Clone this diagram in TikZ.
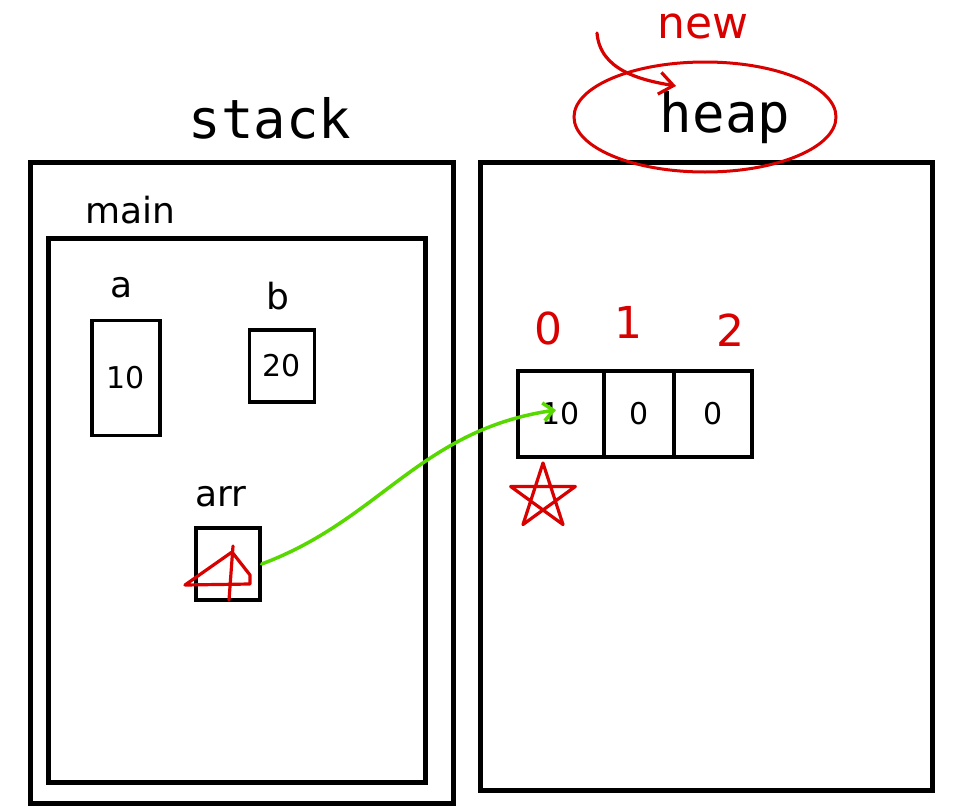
\documentclass[tikz,border=0pt]{standalone}
\usepackage{fontspec}
\setmainfont{DejaVu Sans}
\newfontfamily\titlefont{DejaVu Sans Mono}
\usetikzlibrary{shapes.geometric,calc,arrows.meta}
\begin{document}
\begin{tikzpicture}[x=1pt,y=-1pt,
  frame/.style={draw=black,line width=5pt},
  cellbox/.style={draw=black,line width=3.2pt,inner sep=0pt},
  title/.style={font=\titlefont\fontsize{54}{60}\selectfont,inner sep=0pt},
  hand/.style={font=\fontsize{36}{40}\selectfont,inner sep=0pt},
  val/.style={font=\fontsize{30}{34}\selectfont,inner sep=0pt},
  redtext/.style={font=\fontsize{44}{48}\selectfont,inner sep=0pt,text=red!85!black},
  redink/.style={draw=red!85!black,line width=3.2pt,line join=round,line cap=round},
  greenink/.style={draw=green!60!yellow!85!black,line width=3.5pt,line cap=round}]
\useasboundingbox[fill=white] (0,0) rectangle (964,811);

% stack
\node[title] (stacklbl) at (270,118) {stack};
\draw[frame] (30,162) rectangle (453,803);
\node[hand] (mainlbl) at (130,210) {main};
\draw[frame] (48,238) rectangle (425,782);

% variable a
\node[hand] (albl) at (122,288) {a};
\node[cellbox,minimum width=68,minimum height=115] (abox) at (126,378) {};
\node[val] (aval) at (abox) {10};

% variable b
\node[hand] (blbl) at (278,296) {b};
\node[cellbox,minimum width=65,minimum height=72] (bbox) at (282,366) {};
\node[val] (bval) at (bbox) {20};

% arr
\node[hand] (arrlbl) at (221,497) {arr};
\node[cellbox,minimum width=64,minimum height=72] (arrbox) at (228,564) {};
\draw[redink] (185,585) -- (232,552) -- (250,575) -- (250,584) -- cycle;
\draw[redink] (233,546) -- (229,600);

% heap
\node[title] (heaplbl) at (725,118) {heap};
\draw[frame] (480,162) rectangle (932,790);
\node[draw=red!85!black,line width=3pt,ellipse,minimum width=262,minimum height=110] (heapring) at (705,117) {};
\node[redtext] (newlbl) at (703,26) {new};
\coordinate (newstart) at (597,33);
\coordinate (newend) at (676,86);
\draw[redink,-{Straight Barb[length=14pt,width=22pt]}] (newstart) .. controls (600,70) and (640,80) .. (newend);

% heap array
\node[cellbox,minimum width=86,minimum height=86] (c0) at (561,414) {};
\node[cellbox,minimum width=70,minimum height=86] (c1) at (639,414) {};
\node[cellbox,minimum width=78,minimum height=86] (c2) at (713,414) {};
\node[val] (v0) at (c0) {10};
\node[val] (v1) at (c1) {0};
\node[val] (v2) at (c2) {0};
\node[redtext] (i0) at (548,328) {0};
\node[redtext] (i1) at (628,322) {1};
\node[redtext] (i2) at (730,330) {2};

% star
\coordinate (star) at (543,497);
\draw[redink] ($(star)+(-90:34)$) -- ($(star)+(54:34)$) -- ($(star)+(198:34)$) -- ($(star)+(342:34)$) -- ($(star)+(126:34)$) -- cycle;

% pointer
\coordinate (ptrend) at (556,410);
\draw[greenink,-{Straight Barb[length=10pt,width=18pt]}] (arrbox.east) .. controls (380,520) and (420,430) .. (ptrend);
\end{tikzpicture}
\end{document}
